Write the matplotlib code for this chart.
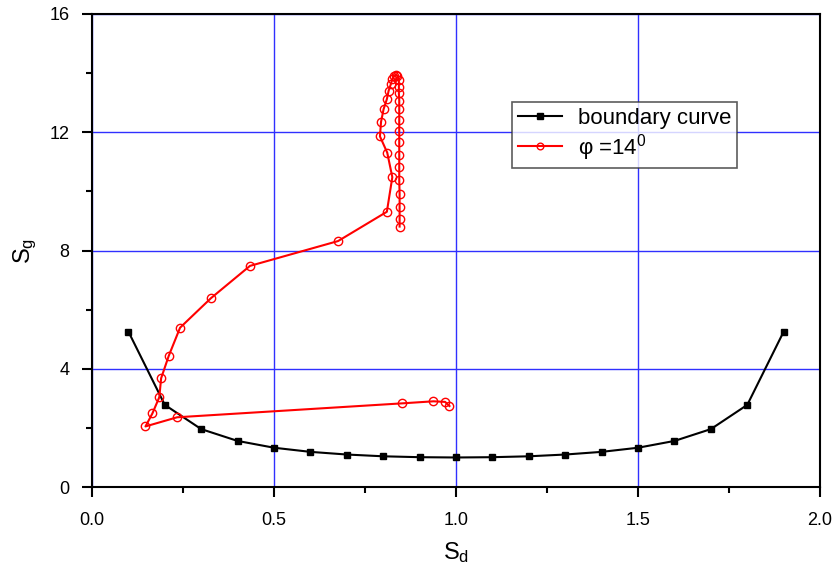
import numpy as np
import matplotlib
matplotlib.use('Agg')
import matplotlib.pyplot as plt
from matplotlib.ticker import MultipleLocator

plt.rcParams['font.family'] = ['Liberation Sans', 'DejaVu Sans']
plt.rcParams['mathtext.fontset'] = 'custom'
plt.rcParams['mathtext.rm'] = 'Liberation Sans'
plt.rcParams['mathtext.it'] = 'Liberation Sans:italic'

''' boundary curve '''
bound_sd = [0.1, 0.2, 0.3, 0.4, 0.5, 0.6, 0.7, 0.8, 0.9, 1.0,
            1.1, 1.2, 1.3, 1.4, 1.5, 1.6, 1.7, 1.8, 1.9]
bound_sg = [5.26, 2.78, 1.96, 1.56, 1.33, 1.19, 1.10, 1.04, 1.01, 1.00,
            1.01, 1.04, 1.10, 1.19, 1.33, 1.56, 1.96, 2.78, 5.26]

''' phi = 14 deg trajectory '''
phi_sd = [0.982, 0.970, 0.938, 0.851, 0.234, 0.147, 0.166, 0.185, 0.190,
          0.211, 0.242, 0.327, 0.434, 0.676, 0.810, 0.825, 0.811, 0.791,
          0.794, 0.801, 0.810, 0.815, 0.821, 0.825, 0.830, 0.835, 0.839,
          0.843, 0.843, 0.843, 0.844, 0.844, 0.844, 0.844, 0.844, 0.844,
          0.844, 0.844, 0.845, 0.845, 0.845, 0.845]
phi_sg = [2.74, 2.88, 2.90, 2.83, 2.36, 2.05, 2.49, 3.04, 3.68,
          4.44, 5.39, 6.39, 7.48, 8.32, 9.31, 10.48, 11.31, 11.86,
          12.35, 12.78, 13.12, 13.41, 13.63, 13.79, 13.90, 13.95, 13.90,
          13.77, 13.54, 13.32, 13.07, 12.78, 12.42, 12.05, 11.68, 11.23,
          10.82, 10.37, 9.91, 9.48, 9.06, 8.81]

fig = plt.figure(figsize=(8.36, 5.73), dpi=100)
ax = fig.add_axes([0.110, 0.150, 0.871, 0.8256])

ax.plot(bound_sd, bound_sg, color='black', lw=1.5, marker='s', ms=5,
        label='boundary curve')
ax.plot(phi_sd, phi_sg, color='red', lw=1.5, marker='o', ms=6,
        mfc='none', mec='red', mew=1, label=r'φ =14$^{0}$')

ax.set_xlim(0, 2.0)
ax.set_ylim(0, 16)
ax.xaxis.set_major_locator(MultipleLocator(0.5))
ax.xaxis.set_minor_locator(MultipleLocator(0.25))
ax.yaxis.set_major_locator(MultipleLocator(4))
ax.yaxis.set_minor_locator(MultipleLocator(2))
ax.set_xticklabels(['%.1f' % v for v in ax.get_xticks()])
ax.grid(True, which='major', color='#3030ff', lw=1)
ax.set_axisbelow(True)

ax.tick_params(which='both', direction='out', top=False, right=False,
               labelsize=13, width=1.5)
ax.tick_params(which='major', length=7)
ax.tick_params(which='minor', length=4)
ax.tick_params(axis='x', pad=11)
ax.tick_params(axis='y', pad=9)
for sp in ax.spines.values():
    sp.set_linewidth(1.5)

ax.set_xlabel(r'S$_{\mathregular{d}}$', fontsize=17, labelpad=8)
ax.set_ylabel(r'S$_{\mathregular{g}}$', fontsize=17, labelpad=8)

leg = ax.legend(loc='upper left', bbox_to_anchor=(0.577, 0.814), fontsize=16,
                frameon=True, fancybox=False, edgecolor='#333333',
                handlelength=2.0, handletextpad=0.7, borderpad=0.25,
                labelspacing=0.15, borderaxespad=0, markerscale=0.8)
leg.get_frame().set_linewidth(1.2)

fig.savefig('out.png', dpi=100)
